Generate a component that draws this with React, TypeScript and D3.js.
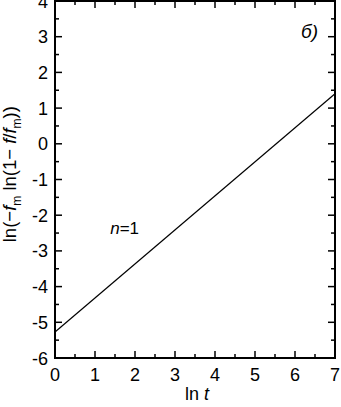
import React, { useEffect, useRef } from 'react';
import * as d3 from 'd3';

const xTicks = [0, 1, 2, 3, 4, 5, 6, 7];
const yTicks = [-6, -5, -4, -3, -2, -1, 0, 1, 2, 3, 4];
const lnT = [0, 7];
const lnF = [-5.27, 1.4];

const App: React.FC = () => {
  const svgRef = useRef<SVGSVGElement>(null);

  useEffect(() => {
    if (!svgRef.current) return;
    const svg = d3.select(svgRef.current);
    svg.selectAll('*').remove();

    const left = 55, right = 335, top = 1, bottom = 358;
    const x = d3.scaleLinear().domain([0, 7]).range([left, right]);
    const y = d3.scaleLinear().domain([-6, 4]).range([bottom, top]);
    const font = 'Liberation Sans, Arial, sans-serif';

    const g = svg.append('g');

    // minor + major ticks, inward on all sides
    const xMinor = d3.range(0, 7.01, 0.5);
    const yMinor = d3.range(-6, 4.01, 0.5);
    xMinor.forEach(v => {
      const len = Number.isInteger(v) ? 7 : 4;
      g.append('line').attr('x1', x(v)).attr('x2', x(v)).attr('y1', bottom).attr('y2', bottom - len)
        .attr('stroke', '#000').attr('stroke-width', 1.5);
      g.append('line').attr('x1', x(v)).attr('x2', x(v)).attr('y1', top).attr('y2', top + len)
        .attr('stroke', '#000').attr('stroke-width', 1.5);
    });
    yMinor.forEach(v => {
      const len = Number.isInteger(v) ? 7 : 4;
      g.append('line').attr('x1', left).attr('x2', left + len).attr('y1', y(v)).attr('y2', y(v))
        .attr('stroke', '#000').attr('stroke-width', 1.5);
      g.append('line').attr('x1', right).attr('x2', right - len).attr('y1', y(v)).attr('y2', y(v))
        .attr('stroke', '#000').attr('stroke-width', 1.5);
    });

    // frame
    g.append('rect').attr('x', left).attr('y', top).attr('width', right - left).attr('height', bottom - top)
      .attr('fill', 'none').attr('stroke', '#000').attr('stroke-width', 2);

    // tick labels
    g.selectAll('text.xt').data(xTicks).enter().append('text')
      .attr('x', d => x(d)).attr('y', bottom + 23)
      .attr('text-anchor', 'middle').attr('font-family', font).attr('font-size', 18)
      .text(d => d);
    g.selectAll('text.yt').data(yTicks).enter().append('text')
      .attr('x', left - 7).attr('y', d => y(d) + 6.5)
      .attr('text-anchor', 'end').attr('font-family', font).attr('font-size', 18)
      .text(d => d);

    // data line
    const line = d3.line<number>().x((d, i) => x(lnT[i])).y(d => y(d));
    g.append('path').datum(lnF).attr('d', line).attr('fill', 'none')
      .attr('stroke', '#000').attr('stroke-width', 1.2);

    // annotations
    const n = g.append('text').attr('x', x(1.38)).attr('y', y(-2.52))
      .attr('font-family', font).attr('font-size', 17);
    n.append('tspan').attr('font-style', 'italic').text('n');
    n.append('tspan').text('=1');

    g.append('text').attr('x', x(6.15)).attr('y', y(2.95))
      .attr('font-family', font).attr('font-size', 19).attr('font-style', 'italic').text('б)');

    // axis titles
    const xt = g.append('text').attr('x', x(3.55)).attr('y', 400)
      .attr('text-anchor', 'middle').attr('font-family', font).attr('font-size', 18);
    xt.append('tspan').text('ln ');
    xt.append('tspan').attr('font-style', 'italic').text('t');

    const yt = g.append('text').attr('transform', `translate(16,${y(-0.85)}) rotate(-90)`)
      .attr('text-anchor', 'middle').attr('font-family', font).attr('font-size', 18.5);
    yt.append('tspan').text('ln(−');
    yt.append('tspan').attr('font-style', 'italic').text('f');
    yt.append('tspan').attr('font-size', 12).attr('dy', 5).text('m');
    yt.append('tspan').attr('dy', -5).text(' ln(1− ');
    yt.append('tspan').attr('font-style', 'italic').text('f');
    yt.append('tspan').text('/');
    yt.append('tspan').attr('font-style', 'italic').text('f');
    yt.append('tspan').attr('font-size', 12).attr('dy', 5).text('m');
    yt.append('tspan').attr('dy', -5).text('))');
  }, []);

  return <svg ref={svgRef} width={341} height={407} style={{ position: 'absolute', left: 0, top: 0, background: '#fff' }} />;
};

export default App;
